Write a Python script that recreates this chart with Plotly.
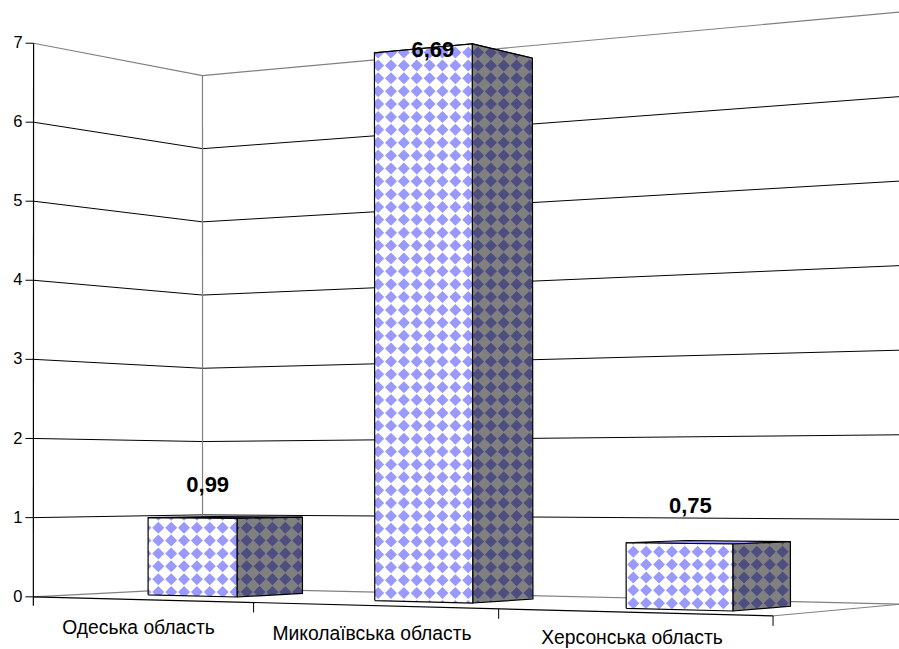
import numpy as np
import plotly.graph_objects as go

# Chart data
regions = ["Одеська область", "Миколаївська область", "Херсонська область"]
values = [0.99, 6.69, 0.75]
value_ticks = [0, 1, 2, 3, 4, 5, 6, 7]

# Box footprint of each column on the floor: category span and depth span
col_u = [(0.243, 0.655), (1.273, 1.683), (2.351, 2.748)]
col_w = [(0.36, 0.765), (0.345, 0.744), (0.242, 0.66)]
# Category slot boundaries along the front floor edge
slot_edges = [0, 1, 2.005, 3.015]

# Perspective camera: (category, value, depth) -> canvas pixels
CAMERA = np.array([
    [2.07980806e+02, 4.26554889e-02, 1.85410321e+02, 3.33446295e+01],
    [-2.34540058e+01, -7.90769623e+01, 3.84325120e+01, 5.96834591e+02],
    [-4.83345029e-02, 2.46059009e-04, 8.00571354e-02, 1.0],
])
U_MAX, V_MAX = 3, 7

# Fill styles
LIGHT = dict(bg="#FFFFFF", dot="#9999FF")
DARK = dict(bg="#808080", dot="#4D4D80")
TOP = dict(bg="#9999FF", dot="#9999FF")
GRID_PERIOD = 12.87
DOT_RADIUS = 6.0
# Lattice origin of the diamond fill on each column's two visible faces
origins = [((158.3, 527.7), (246.7, 527.7)),
           ((391.0, 207.0), (478.0, 207.0)),
           ((633.3, 551.7), (744.0, 551.7))]
# Label shift from the projected column top, in pixels
label_shift = [(15.6, -32), (10, 3.5), (11.5, -36)]
# Category caption centres in pixels
caption_pos = [(138.5, 629), (372, 635), (632, 639.5)]


def project(u, v, w):
    h = CAMERA @ np.array([u, v, w, 1.0])
    return h[0] / h[2], h[1] / h[2]


def polyline(points):
    out_x, out_y = [], []
    for seg in points:
        for x, y in seg:
            out_x.append(x)
            out_y.append(y)
        out_x.append(None)
        out_y.append(None)
    return out_x, out_y


def clip_convex(poly, clip):
    # Sutherland-Hodgman clipping of a polygon against a convex outline
    area = sum(clip[i][0] * clip[(i + 1) % len(clip)][1] - clip[(i + 1) % len(clip)][0] * clip[i][1]
               for i in range(len(clip)))
    sign = 1 if area > 0 else -1
    result = list(poly)
    for i in range(len(clip)):
        ax, ay = clip[i]
        bx, by = clip[(i + 1) % len(clip)]
        side = lambda p: sign * ((bx - ax) * (p[1] - ay) - (by - ay) * (p[0] - ax))
        src, result = result, []
        for j in range(len(src)):
            p, q = src[j], src[(j + 1) % len(src)]
            sp, sq = side(p), side(q)
            if sp >= 0:
                result.append(p)
            if (sp >= 0) != (sq >= 0):
                t = sp / (sp - sq)
                result.append((p[0] + t * (q[0] - p[0]), p[1] + t * (q[1] - p[1])))
        if not result:
            return []
    return result


def diamonds(face, origin):
    xs = [p[0] for p in face]
    ys = [p[1] for p in face]
    first_i = int(np.floor((min(xs) - origin[0]) / GRID_PERIOD)) - 1
    last_i = int(np.ceil((max(xs) - origin[0]) / GRID_PERIOD)) + 1
    first_j = int(np.floor((min(ys) - origin[1]) / GRID_PERIOD)) - 1
    last_j = int(np.ceil((max(ys) - origin[1]) / GRID_PERIOD)) + 1
    cells = []
    for i in range(first_i, last_i + 1):
        for j in range(first_j, last_j + 1):
            cx = origin[0] + i * GRID_PERIOD
            cy = origin[1] + j * GRID_PERIOD
            d = [(cx - DOT_RADIUS, cy), (cx, cy - DOT_RADIUS), (cx + DOT_RADIUS, cy), (cx, cy + DOT_RADIUS)]
            part = clip_convex(d, face)
            if len(part) >= 3:
                cells.append(part + [part[0]])
    return cells


fig = go.Figure()


def add_lines(segments, color, width=1.0):
    x, y = polyline(segments)
    fig.add_trace(go.Scatter(x=x, y=y, mode="lines", hoverinfo="skip",
                             line=dict(color=color, width=width)))


def add_face(face, style, origin=None):
    closed = face + [face[0]]
    fig.add_trace(go.Scatter(x=[p[0] for p in closed], y=[p[1] for p in closed], mode="lines",
                             fill="toself", fillcolor=style["bg"], hoverinfo="skip",
                             line=dict(color="rgba(0,0,0,0)", width=0)))
    if origin is not None:
        x, y = polyline(diamonds(face, origin))
        fig.add_trace(go.Scatter(x=x, y=y, mode="lines", fill="toself", fillcolor=style["dot"],
                                 hoverinfo="skip", line=dict(color="rgba(0,0,0,0)", width=0)))
    fig.add_trace(go.Scatter(x=[p[0] for p in closed], y=[p[1] for p in closed], mode="lines",
                             hoverinfo="skip", line=dict(color="#000000", width=1.2)))


# Walls: value gridlines run along the side wall and the back wall
corner = [project(0, v, 1) for v in value_ticks]
walls = [[project(0, v, 0), project(0, v, 1), project(U_MAX, v, 1)] for v in value_ticks]
add_lines(walls[1:-1], "#000000", 1.0)
add_lines([walls[-1], [corner[0], corner[-1]], walls[0]], "#808080", 1.2)

# Value axis, its ticks, and the front floor edge with category ticks
axis_x = project(0, 0, 0)[0]
floor_front = [project(u, 0, 0) for u in slot_edges]
add_lines([[floor_front[-1], project(U_MAX, 0, 1)]], "#808080", 1.0)
add_lines([[project(0, V_MAX, 0), (axis_x, floor_front[0][1] + 9)],
           floor_front], "#000000", 1.2)
ticks = [[(project(0, v, 0)[0] - 8, project(0, v, 0)[1]), project(0, v, 0)] for v in value_ticks]
ticks += [[p, (p[0], p[1] + 10)] for p in floor_front[1:]]
add_lines(ticks, "#000000", 1.0)

# Columns: top, side and front faces, back to front
for val, (u0, u1), (w0, w1), org in zip(values, col_u, col_w, origins):
    fl, fr = project(u0, 0, w0), project(u1, 0, w0)
    br = project(u1, 0, w1)
    tl, tr = project(u0, val, w0), project(u1, val, w0)
    tb = project(u1, val, w1)
    tk = project(u0, val, w1)
    add_face([tl, tr, tb, tk], TOP)
    add_face([fr, br, tb, tr], DARK, org[1])
    add_face([fl, fr, tr, tl], LIGHT, org[0])

# Value tick captions
fig.add_trace(go.Scatter(
    x=[project(0, v, 0)[0] - 11 for v in value_ticks],
    y=[project(0, v, 0)[1] + 1 for v in value_ticks],
    text=[str(v) for v in value_ticks], mode="text", textposition="middle left",
    hoverinfo="skip", textfont=dict(family="Liberation Sans", size=16.5, color="#000000")))

# Category captions
fig.add_trace(go.Scatter(
    x=[p[0] for p in caption_pos], y=[p[1] for p in caption_pos],
    text=regions, mode="text", textposition="middle center", hoverinfo="skip",
    textfont=dict(family="Liberation Sans", size=19.3, color="#000000")))

# Value labels above the columns
lab_x, lab_y = [], []
for val, (u0, u1), (w0, w1), sh in zip(values, col_u, col_w, label_shift):
    cx, cy = project((u0 + u1) / 2, val, w0)
    lab_x.append(cx + sh[0])
    lab_y.append(cy + sh[1])
fig.add_trace(go.Scatter(
    x=lab_x, y=lab_y, text=[f"{v:.2f}".replace(".", ",") for v in values],
    mode="text", textposition="middle center", hoverinfo="skip",
    textfont=dict(family="Liberation Sans", size=22, color="#000000", weight="bold")))

fig.update_layout(
    width=899, height=649, showlegend=False,
    margin=dict(l=0, r=0, t=0, b=0),
    paper_bgcolor="#FFFFFF", plot_bgcolor="#FFFFFF",
    xaxis=dict(range=[0, 899], visible=False, fixedrange=True),
    yaxis=dict(range=[649, 0], visible=False, fixedrange=True),
)
fig.write_html("out.html", config=dict(displayModeBar=False))
